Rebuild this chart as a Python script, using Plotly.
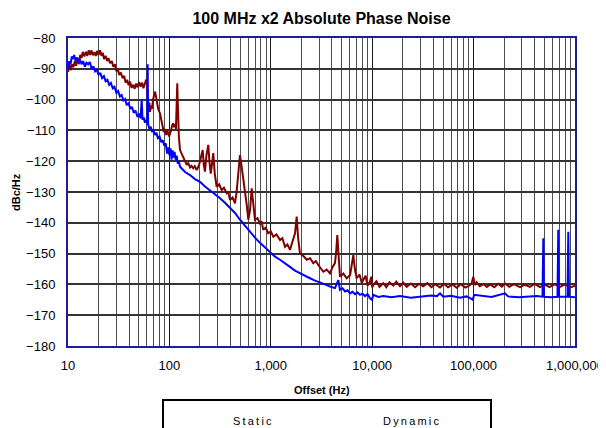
import plotly.graph_objects as go

# ---- data (offset Hz, dBc/Hz) ----
dynamic_f = [10, 10.3, 10.6, 11, 11.3, 11.7, 12, 12.4, 12.8, 13.2, 13.6, 14, 14.5, 15, 15.5, 16,
             16.5, 17, 17.6, 18.2, 18.8, 19.4, 20, 20.7, 21.4, 22, 22.7, 23.5, 24.3, 25, 26, 27,
             28, 29, 30, 31, 32, 33.2, 34.5, 35.8, 37, 38.3, 39.6, 41, 42.4, 44, 45.5, 47, 48.6,
             50.3, 52, 53.8, 55.5, 57.4, 59, 60.1, 61, 62.2, 63.5, 64.4, 65.8, 67.3, 69, 70.5,
             72.1, 73.8, 75.5, 77.5, 80.8, 83, 85.5, 88, 90.5, 93, 95, 97.5, 99.5, 101.4, 104, 106,
             109.2, 111, 113.5, 116, 117.5, 118.5, 119.6, 120.6, 122, 124, 127.3, 132, 137.2, 142,
             148.2, 153, 159.7, 165, 172, 178, 185.8, 193, 200.4, 207, 213, 218, 224.3, 232, 241.9,
             248, 255.5, 263, 271, 280, 292.6, 310, 327.8, 345, 367.4, 380, 396, 420, 443.7, 460,
             478, 496.5, 512, 528, 557, 578, 600, 624, 648, 672, 698, 740, 782, 810, 843, 890, 944,
             1000, 1059, 1140, 1233, 1300, 1381, 1460, 1546, 1640, 1733, 1800, 1860, 1940, 2100,
             2260, 2440, 2625, 2780, 2940, 3110, 3294, 3560, 3836, 4050, 4297, 4420, 4528, 4650,
             4812, 5200, 5600, 6050, 6300, 6512, 6750, 7030, 7500, 7900, 8170, 8600, 9000, 9510,
             9800, 10000, 10250, 11000, 11800, 12880, 13800, 14800, 16150, 17300, 18790, 20200,
             21880, 24000, 26500, 29000, 31900, 35000, 38500, 42000, 46640, 51000, 56000, 62000,
             68100, 75000, 83000, 92000, 96000, 99300, 103000, 107300, 115000, 125000, 135000,
             145200, 160000, 175000, 190000, 204200, 225000, 250000, 287000, 320000, 360000,
             400000, 452000, 500000, 560000, 630000, 711000, 800000, 900000, 1000000]
dynamic_db = [-91, -88, -90.5, -88.5, -89.5, -87.5, -89, -86.5, -88.5, -85.5, -86.5, -84.5, -86,
              -84.5, -85.8, -84, -85.5, -84, -85.6, -84.6, -85.8, -84.2, -85.5, -84, -85.8, -84.8,
              -86.8, -85.8, -87.5, -86.5, -88.2, -87.5, -89.3, -88.5, -90.8, -90, -92, -91.2, -93,
              -92.3, -94.5, -93.6, -95.3, -94.2, -96.2, -95.2, -96.5, -94.8, -96, -94.3, -95.8,
              -94.5, -96.3, -94.2, -93.5, -95, -99, -103, -101, -104, -102, -103, -100, -98, -97.4,
              -99, -101, -103, -104.5, -107, -108.5, -110.5, -109.5, -111.5, -110, -111, -112,
              -111, -110, -108.5, -107.7, -109, -108, -109.5, -104, -96, -94.7, -100, -108, -112,
              -116.4, -117.5, -118.5, -120, -121.2, -120.5, -122, -121.5, -122.3, -121.6, -122.9,
              -121.8, -120.2, -118, -116.4, -121, -123.4, -118, -114.7, -120, -124, -121, -117.4,
              -124, -128.3, -127.5, -129.4, -128.6, -130.4, -129.8, -132.6, -131.8, -133.7,
              -130, -122.9, -118, -121, -124, -129.4, -134, -139, -136, -128.8, -134, -139, -138.5,
              -140.2, -139.5, -142.3, -141.6, -143.4, -142.8, -144.5, -143.8, -145.6, -145,
              -147.8, -147, -148.8, -146, -143.4, -138, -145, -149.9, -150.8, -152, -151.5,
              -153.1, -152.4, -153.7, -154.8, -155.9, -155.2, -156.4, -154.5, -153, -149,
              -144, -150, -157.5, -156.5, -158, -157, -154, -150.5, -155, -158, -156.8, -159.5,
              -158.6, -157.2, -160.4, -159.1, -157.5, -161, -160.2, -159.0, -160.8, -159.6,
              -160.9, -159.3, -160.4, -159.1, -160.6, -159.4, -160.8, -159.7, -160.9, -159.8,
              -160.6, -159.6, -160.9, -159.9, -161.0, -159.8, -160.9, -160.0, -161.1, -159.9,
              -161.0, -160.3, -159.5, -157.5, -160.2, -159.3, -160.6, -159.9, -160.8, -160.0,
              -160.9, -159.8, -160.7, -159.7, -160.8, -159.9, -160.9, -160.1, -160.8, -159.8,
              -160.9, -160.0, -160.9, -159.9, -160.8, -160.0, -161.0, -160.4]

static_f = [10, 10.3, 10.6, 10.9, 11.2, 11.5, 11.9, 12.3, 12.7, 13.1, 13.6, 14.1, 14.7, 15.2, 15.8,
            16.4, 17.1, 17.8, 18.5, 19.2, 20, 20.8, 21.7, 22.6, 23.5, 24.5, 25.5, 26.5, 27.6,
            28.7, 30, 31.2, 32.5, 33.8, 35.2, 36.6, 38, 39.6, 41.2, 42.8, 44.5, 46.3, 48.2, 50.1,
            52, 53.3, 54.3, 56, 57.4, 59, 60.5, 61.1, 61.7, 63.5, 65.5, 67.5, 69.5, 72, 74.5, 77,
            80, 83, 86, 89, 92, 95, 97.5, 100, 102.5, 105, 107.5, 110, 112.5, 115, 118, 121, 124,
            127.3, 142.6, 159.7, 178.6, 200.4, 224.3, 251.5, 281.6, 315.5, 353.5, 396, 443.7,
            496.5, 557, 624, 698, 782, 877, 982, 1100, 1233, 1381, 1546, 1733, 1940, 2173, 2436,
            2730, 3058, 3427, 3836, 4297, 4634, 4812, 5100, 5395, 5700, 6044, 6400, 6769, 7150,
            7585, 8000, 8496, 9000, 9510, 9950, 10250, 11500, 12880, 15500, 18790, 24000, 31900,
            38000, 43550, 46640, 50200, 60000, 73440, 85000, 94200, 98600, 100900, 115700,
            150000, 204200, 218400, 280000, 360000, 420000, 478000, 487000, 494000, 580000,
            672000, 684000, 695000, 770000, 843000, 859000, 873000, 1000000]
static_db = [-90, -87.5, -88.5, -86, -86.8, -85.5, -87.5, -86.3, -88, -87, -88.5, -87.5, -89.3, -88,
             -88.5, -87.8, -90, -89.2, -90.8, -90.2, -92, -91.3, -93, -92.4, -94, -93.6, -95.2,
             -94.6, -96.3, -95.8, -97.8, -97.2, -99, -98.5, -100.3, -99.8, -101.8, -101.2, -103,
             -102.4, -104.3, -103.6, -105.3, -104.8, -106, -100, -106.5, -105.8, -107.5, -106.5,
             -108, -88.5, -108, -109.5, -108.8, -110.5, -109.8, -111.5, -110.8, -112.5, -112,
             -113.8, -113.2, -115, -114.2, -117.5, -115.5, -118, -115.8, -119.5, -116.5, -118.8,
             -117, -119.5, -118.2, -120.8, -120, -121.8, -123.5, -124.5, -125.8, -126.7, -128.2,
             -129.4, -130.8, -132, -133.5, -135, -136.8, -139, -141, -143, -144.8, -146.5, -148,
             -149.7, -151, -152, -153.3, -154.3, -155.5, -156.4, -157.3, -158, -158.8, -159.3,
             -160, -160.7, -161.2, -158.6, -161.8, -161.3, -162.3, -161.9, -162.9, -162.4, -163.2,
             -162.6, -163.4, -163, -163.8, -163.2, -164.5, -165, -163.4, -164.1, -163.8, -164.2,
             -163.8, -164.3, -164, -163.6, -163.8, -162.9, -164, -163.7, -164.3, -163.9, -164.6,
             -165, -163.4, -163.7, -164.1, -162.9, -163.9, -164.2, -164, -163.8, -164, -145, -164,
             -164.2, -164, -142.3, -164, -164.1, -164, -142.9, -164, -164.2]

x_tickvals = [10, 100, 1000, 10000, 100000, 1000000]
x_ticktext = ["10", "100", "1,000", "10,000", "100,000", "1,000,000"]
y_tickvals = [-80, -90, -100, -110, -120, -130, -140, -150, -160, -170, -180]

FONT = "Liberation Sans, Arial, sans-serif"
# the page body adds an 8 px offset; the figure is sized to fill the rest of the window
OFF = 8

fig = go.Figure()
fig.add_trace(go.Scatter(x=dynamic_f, y=dynamic_db, mode="lines", name="Dynamic",
                         line=dict(color="#800000", width=2), showlegend=False))
fig.add_trace(go.Scatter(x=static_f, y=static_db, mode="lines", name="Static",
                         line=dict(color="#0000ff", width=2), showlegend=False))

fig.update_layout(
    width=606 - OFF, height=428 - OFF,
    margin=dict(l=68 - OFF, r=31, t=38 - OFF, b=82, autoexpand=False),
    paper_bgcolor="white", plot_bgcolor="white",
    font=dict(family=FONT, color="black", size=13),
    title=dict(text="<b>100 MHz x2 Absolute Phase Noise</b>", x=0.5, xref="paper",
               xanchor="center", y=1 - (18 - OFF) / (428 - OFF), yref="container",
               yanchor="middle", font=dict(size=16, family=FONT, color="black")),
)
fig.update_xaxes(type="log", range=[1, 6], tickvals=x_tickvals, ticktext=x_ticktext,
                 automargin=False,
                 showgrid=True, gridcolor="#1a1a1a", gridwidth=1,
                 minor=dict(dtick="D1", showgrid=True, gridcolor="#4e4e4e", gridwidth=1, ticks=""),
                 ticks="", ticklabelstandoff=6,
                 showline=True, linecolor="#1c1c9c", linewidth=2, mirror=True, zeroline=False)
fig.update_yaxes(range=[-180, -80], tickvals=y_tickvals, automargin=False,
                 showgrid=True, gridcolor="#333333", gridwidth=1.5,
                 ticks="", ticklabelstandoff=8,
                 showline=True, linecolor="#1c1c9c", linewidth=2, mirror=True, zeroline=False)

fig.add_annotation(text="<b>Offset (Hz)</b>", xref="paper", yref="paper", x=0.5, xanchor="center",
                   y=(346 - 390) / 308, yanchor="middle", showarrow=False,
                   font=dict(size=11, family=FONT))
fig.add_annotation(text="<b>dBc/Hz</b>", xref="paper", yref="paper", x=(16 - 68) / 507,
                   xanchor="center", y=0.5, yanchor="middle", textangle=-90, showarrow=False,
                   font=dict(size=11, family=FONT))

# legend box (partly below the visible page, as in the reference)
fig.add_shape(type="rect", xref="paper", yref="paper", x0=(163 - 68) / 507, x1=(491 - 68) / 507,
              y0=(346 - 460) / 308, y1=(346 - 400) / 308, line=dict(color="black", width=2),
              fillcolor="white", layer="above")
sp = "\u2009"
fig.add_annotation(text=sp.join("Static"), xref="paper", yref="paper", x=(252 - 68) / 507,
                   xanchor="center", y=(346 - 421) / 308, yanchor="middle", showarrow=False,
                   font=dict(size=11, family=FONT))
fig.add_annotation(text=sp.join("Dynamic"), xref="paper", yref="paper", x=(411 - 68) / 507,
                   xanchor="center", y=(346 - 421) / 308, yanchor="middle", showarrow=False,
                   font=dict(size=11, family=FONT))

fig.write_html("out.html")
